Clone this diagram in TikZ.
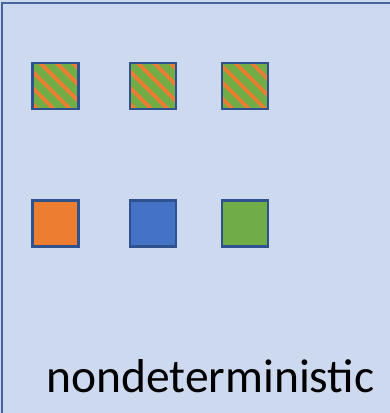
\documentclass[tikz,border=0pt]{standalone}
\usepackage{fontspec}
\setmainfont{Carlito}
\usetikzlibrary{patterns.meta}
\definecolor{panelbg}{HTML}{CDD9EF}
\definecolor{paneledge}{HTML}{41669E}
\definecolor{tileedge}{HTML}{2F528F}
\definecolor{tileorange}{HTML}{ED7D31}
\definecolor{tileblue}{HTML}{4472C4}
\definecolor{tilegreen}{HTML}{70AD47}

\begin{document}
\begin{tikzpicture}[x=1pt,y=-1pt,
  tile/.style={draw=tileedge,line width=2.4pt,minimum size=46pt,inner sep=0pt},
  mixed/.style={tile,preaction={fill=tilegreen},pattern={Lines[angle=-45,distance=11.5pt,line width=3.8pt]},pattern color=tileorange}]
\useasboundingbox (0,0) rectangle (390,413);
\fill[panelbg] (0,0) rectangle (390,413);
\draw[paneledge,line width=2pt] (2,413) -- (2,3) -- (390,3);
% top row: mixed tiles
\node[mixed] (m1) at (55.5,86) {};
\node[mixed] (m2) at (153,86) {};
\node[mixed] (m3) at (245,86) {};
% bottom row: plain tiles
\node[tile,fill=tileorange] (c1) at (55.5,223.5) {};
\node[tile,fill=tileblue] (c2) at (153,223.5) {};
\node[tile,fill=tilegreen] (c3) at (245,223.5) {};
\node[font=\fontsize{47.5}{52}\selectfont,anchor=base,inner sep=0pt] (lbl) at (210.5,392) {nondeterministic};
\end{tikzpicture}
\end{document}
